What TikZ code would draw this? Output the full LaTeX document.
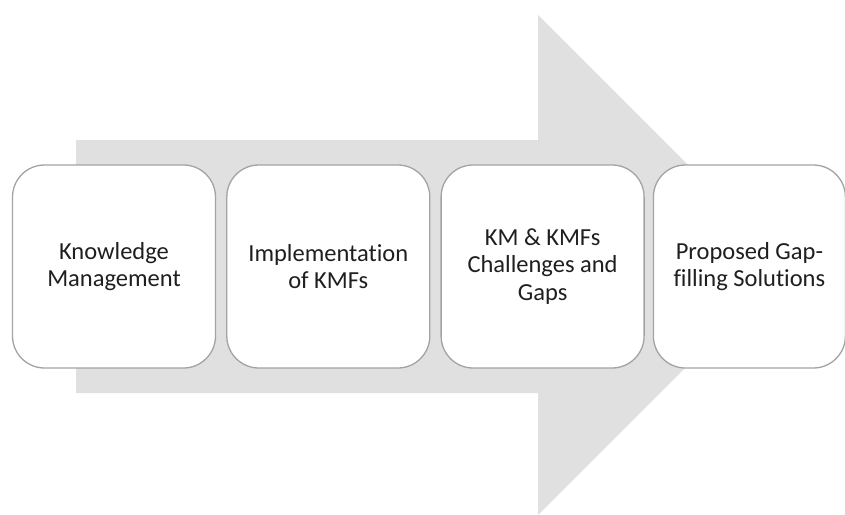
\documentclass[tikz,border=0pt]{standalone}
\usepackage{fontspec}
\setmainfont{Carlito}[Ligatures=NoCommon]
\usepackage{xcolor}
\usepackage{tikz}
\usetikzlibrary{positioning}

\definecolor{arrowgray}{HTML}{E0E0E0}
\definecolor{edgegray}{HTML}{A3A3A3}

\begin{document}
\begin{tikzpicture}[
  x=1pt, y=-1pt,
  node distance=10pt,
  stage/.style={rectangle, draw=edgegray, fill=white, line width=1.3pt,
                rounded corners=32pt, minimum width=203pt, minimum height=203pt,
                align=center, text=black!88,
                font=\fontsize{24.5}{27.5}\selectfont},
  flow/.style={fill=arrowgray, draw=none}
]
\useasboundingbox (0,0) rectangle (845,514);
%% -- big background arrow -------------------------------------------------
\fill[flow] (76,140) -- (538,140) -- (538,15) -- (788,265)
  -- (538,515) -- (538,393) -- (76,393) -- cycle;
%% -- stages, left to right ------------------------------------------------
\node[stage] (km) at (114,266.5) {Knowledge\\Management};
\node[stage, right=of km]  (impl) {Implementation\\of KMFs};
\node[stage, right=of impl] (gaps) {KM \& KMFs\\Challenges and\\Gaps};
\node[stage, right=8pt of gaps, minimum width=192pt] (sol)
      {Proposed Gap-\\filling Solutions};
\end{tikzpicture}
\end{document}
